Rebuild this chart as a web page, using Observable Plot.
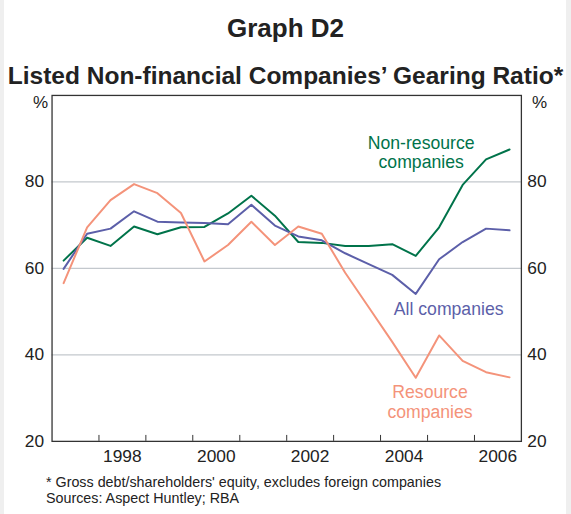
<!DOCTYPE html>
<html>
<head>
<meta charset="utf-8">
<script src="https://cdn.jsdelivr.net/npm/d3@7"></script>
<script src="https://cdn.jsdelivr.net/npm/@observablehq/plot@0.6"></script>
<style>
  html, body { margin: 0; padding: 0; background: #efefef; }
  #page { position: relative; width: 562px; height: 514px; margin-left: 4px; background: #fff; font-family: "Liberation Sans", Arial, sans-serif; color: #222; overflow: hidden; }
  .abs { position: absolute; white-space: nowrap; }
  #title { left: -4px; width: 571px; top: 13px; text-align: center; font-weight: bold; font-size: 26px; line-height: 30px; }
  #subtitle { left: -4px; width: 571px; top: 61px; text-align: center; font-weight: bold; font-size: 24.5px; line-height: 30px; }
  #unitL { left: 29px; top: 93px; font-size: 17px; }
  #unitR { left: 528px; top: 93px; font-size: 17px; }
  #chart { position: absolute; left: -4px; top: 88px; }
  #note { left: 42px; top: 474px; font-size: 14.3px; line-height: 16px; }
</style>
</head>
<body>
<div id="page">
  <div id="title" class="abs">Graph D2</div>
  <div id="subtitle" class="abs">Listed Non-financial Companies’ Gearing Ratio*</div>
  <div id="unitL" class="abs">%</div>
  <div id="unitR" class="abs">%</div>
  <div id="chart"></div>
  <div id="note" class="abs">* Gross debt/shareholders' equity, excludes foreign companies<br>Sources: Aspect Huntley; RBA</div>
</div>
<script>
// Half-yearly observations
const periods = [
  "1997-04-01","1997-10-01","1998-04-01","1998-10-01","1999-04-01","1999-10-01",
  "2000-04-01","2000-10-01","2001-04-01","2001-10-01","2002-04-01","2002-10-01",
  "2003-04-01","2003-10-01","2004-04-01","2004-10-01","2005-04-01","2005-10-01",
  "2006-04-01","2006-10-01"
];
const nonResource = [61.8, 67.1, 65.2, 69.7, 67.9, 69.5, 69.6, 72.7, 76.8, 72.2,
                     66.1, 65.9, 65.2, 65.2, 65.6, 62.9, 69.5, 79.3, 85.2, 87.5];
const allCompanies = [59.9, 68.0, 69.2, 73.2, 70.8, 70.6, 70.5, 70.2, 74.7, 69.9,
                      67.4, 66.5, 63.5, 61.0, 58.5, 54.1, 62.1, 66.1, 69.2, 68.8];
const resource = [56.6, 69.5, 75.8, 79.5, 77.4, 72.8, 61.6, 65.4, 70.8, 65.4,
                  69.7, 68.0, 59.0, 51.0, 43.0, 34.7, 44.5, 38.6, 36.0, 34.8];

const seriesNames = ["Non-resource companies", "All companies", "Resource companies"];
const seriesColors = ["#00734a", "#5c5fa9", "#f4937a"];
const seriesValues = [nonResource, allCompanies, resource];

const yTicks = [20, 40, 60, 80];
const gridValues = [40, 60, 80];
const yearStarts = ["1998","1999","2000","2001","2002","2003","2004","2005","2006"];
const yearLabels = ["1998","2000","2002","2004","2006"];

// Series label annotations
const labelText = ["Non-resource\ncompanies", "All companies", "Resource\ncompanies"];
const labelDates = ["2004-11-12", "2005-06-14", "2005-01-20"];
const labelValues = [86.9, 50.7, 29.2];

const parse = s => new Date(s + (s.length === 4 ? "-01-01" : "") + "T00:00:00Z");

const rows = [];
seriesNames.forEach((name, i) => {
  periods.forEach((p, j) => rows.push({series: name, date: parse(p), value: seriesValues[i][j]}));
});
const labels = seriesNames.map((name, i) => ({series: name, text: labelText[i], date: parse(labelDates[i]), value: labelValues[i]}));

const chart = Plot.plot({
  width: 571,
  height: 382,
  marginLeft: 52,
  marginRight: 45.5,
  marginTop: 7,
  marginBottom: 26,
  style: {fontFamily: '"Liberation Sans", Arial, sans-serif', fontSize: "17px", color: "#222", background: "transparent", overflow: "visible"},
  x: {type: "utc", domain: [parse("1997"), parse("2007")]},
  y: {domain: [20, 100]},
  color: {domain: seriesNames, range: seriesColors},
  marks: [
    Plot.ruleY(gridValues, {stroke: "#c3c8cd", strokeWidth: 1.2}),
    Plot.axisY(yTicks, {anchor: "left", tickSize: 0, tickPadding: 8, label: null, fontSize: 17.5, fill: "#222"}),
    Plot.axisY(yTicks, {anchor: "right", tickSize: 0, tickPadding: 6, label: null, fontSize: 17.5, fill: "#222"}),
    Plot.axisX(yearStarts.map(parse), {anchor: "bottom", tickSize: -6, text: null, label: null, stroke: "#333"}),
    Plot.axisX(yearLabels.map(y => parse(y + "-07-02")), {anchor: "bottom", tickSize: 0, tickPadding: 8, tickFormat: d => String(d.getUTCFullYear()), label: null, fontSize: 17.5, fill: "#222"}),
    Plot.lineY(rows, {x: "date", y: "value", z: "series", stroke: "series", strokeWidth: 2}),
    Plot.text(labels, {x: "date", y: "value", text: "text", fill: "series", fontSize: 17.8, lineHeight: 1.12, textAnchor: "middle"}),
    Plot.frame({stroke: "#333", strokeWidth: 1.3})
  ]
});
document.getElementById("chart").appendChild(chart);
</script>
</body>
</html>
